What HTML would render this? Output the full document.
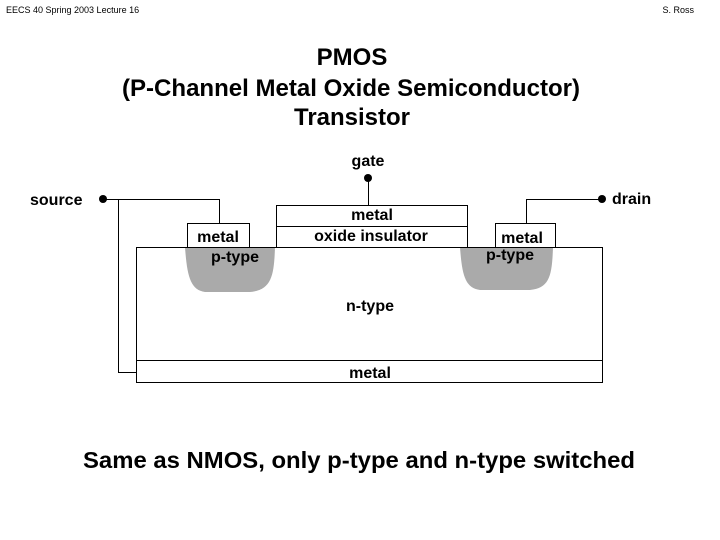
<!DOCTYPE html>
<html><head><style>
html,body{margin:0;padding:0;background:#fff;}
svg{display:block;font-family:"Liberation Sans",Arial,sans-serif;}
</style></head><body>
<svg width="720" height="540" viewBox="0 0 720 540" xmlns="http://www.w3.org/2000/svg">
<text x="6" y="13" font-size="9">EECS 40 Spring 2003  Lecture 16</text>
<text x="694" y="13" font-size="9" text-anchor="end">S. Ross</text>
<g font-size="24" font-weight="bold" text-anchor="middle" fill="#000">
<text x="352" y="65">PMOS</text>
<text x="351" y="96" textLength="458" lengthAdjust="spacingAndGlyphs">(P-Channel Metal Oxide Semiconductor)</text>
<text x="352" y="125" textLength="116" lengthAdjust="spacingAndGlyphs">Transistor</text>
</g>
<g font-size="16" font-weight="bold" fill="#000">
<text x="368" y="166" text-anchor="middle">gate</text>
<text x="30" y="205">source</text>
<text x="612" y="204">drain</text>
</g>
<rect x="136.5" y="247.5" width="466" height="135" fill="#fff" stroke="#000"/>
<line x1="136" y1="360.5" x2="603" y2="360.5" stroke="#000"/>
<path d="M185 247 L275 247 C274 275 272 290 250 292 L205 292 C190 290 187 275 185 247 Z" fill="#aaa"/>
<path d="M460 247 L553 247 C552 275 550 288 530 290 L480 290 C465 288 462 275 460 247 Z" fill="#aaa"/>
<line x1="136" y1="247.5" x2="603" y2="247.5" stroke="#000"/>
<rect x="276.5" y="205.5" width="191" height="42" fill="#fff" stroke="#000"/>
<line x1="276" y1="226.5" x2="467" y2="226.5" stroke="#000"/>
<rect x="187.5" y="223.5" width="62" height="24" fill="#fff" stroke="#000"/>
<rect x="495.5" y="223.5" width="60" height="24" fill="#fff" stroke="#000"/>
<g stroke="#000" fill="none">
<polyline points="103,199.5 219.5,199.5 219.5,223"/>
<polyline points="118.5,199.5 118.5,372.5 136,372.5"/>
<line x1="368.5" y1="178" x2="368.5" y2="205"/>
<polyline points="602,199.5 526.5,199.5 526.5,223"/>
</g>
<circle cx="103" cy="199" r="4" fill="#000"/>
<circle cx="368" cy="178" r="4" fill="#000"/>
<circle cx="602" cy="199" r="4" fill="#000"/>
<g font-size="16" font-weight="bold" fill="#000" text-anchor="middle">
<text x="218" y="242">metal</text>
<text x="235" y="262">p-type</text>
<text x="372" y="220">metal</text>
<text x="371" y="241">oxide insulator</text>
<text x="522" y="243">metal</text>
<text x="510" y="260">p-type</text>
<text x="370" y="311">n-type</text>
<text x="370" y="378">metal</text>
</g>
<text x="359" y="468" font-size="23" font-weight="bold" text-anchor="middle" textLength="552" lengthAdjust="spacingAndGlyphs">Same as NMOS, only p-type and n-type switched</text>
</svg>
</body></html>
